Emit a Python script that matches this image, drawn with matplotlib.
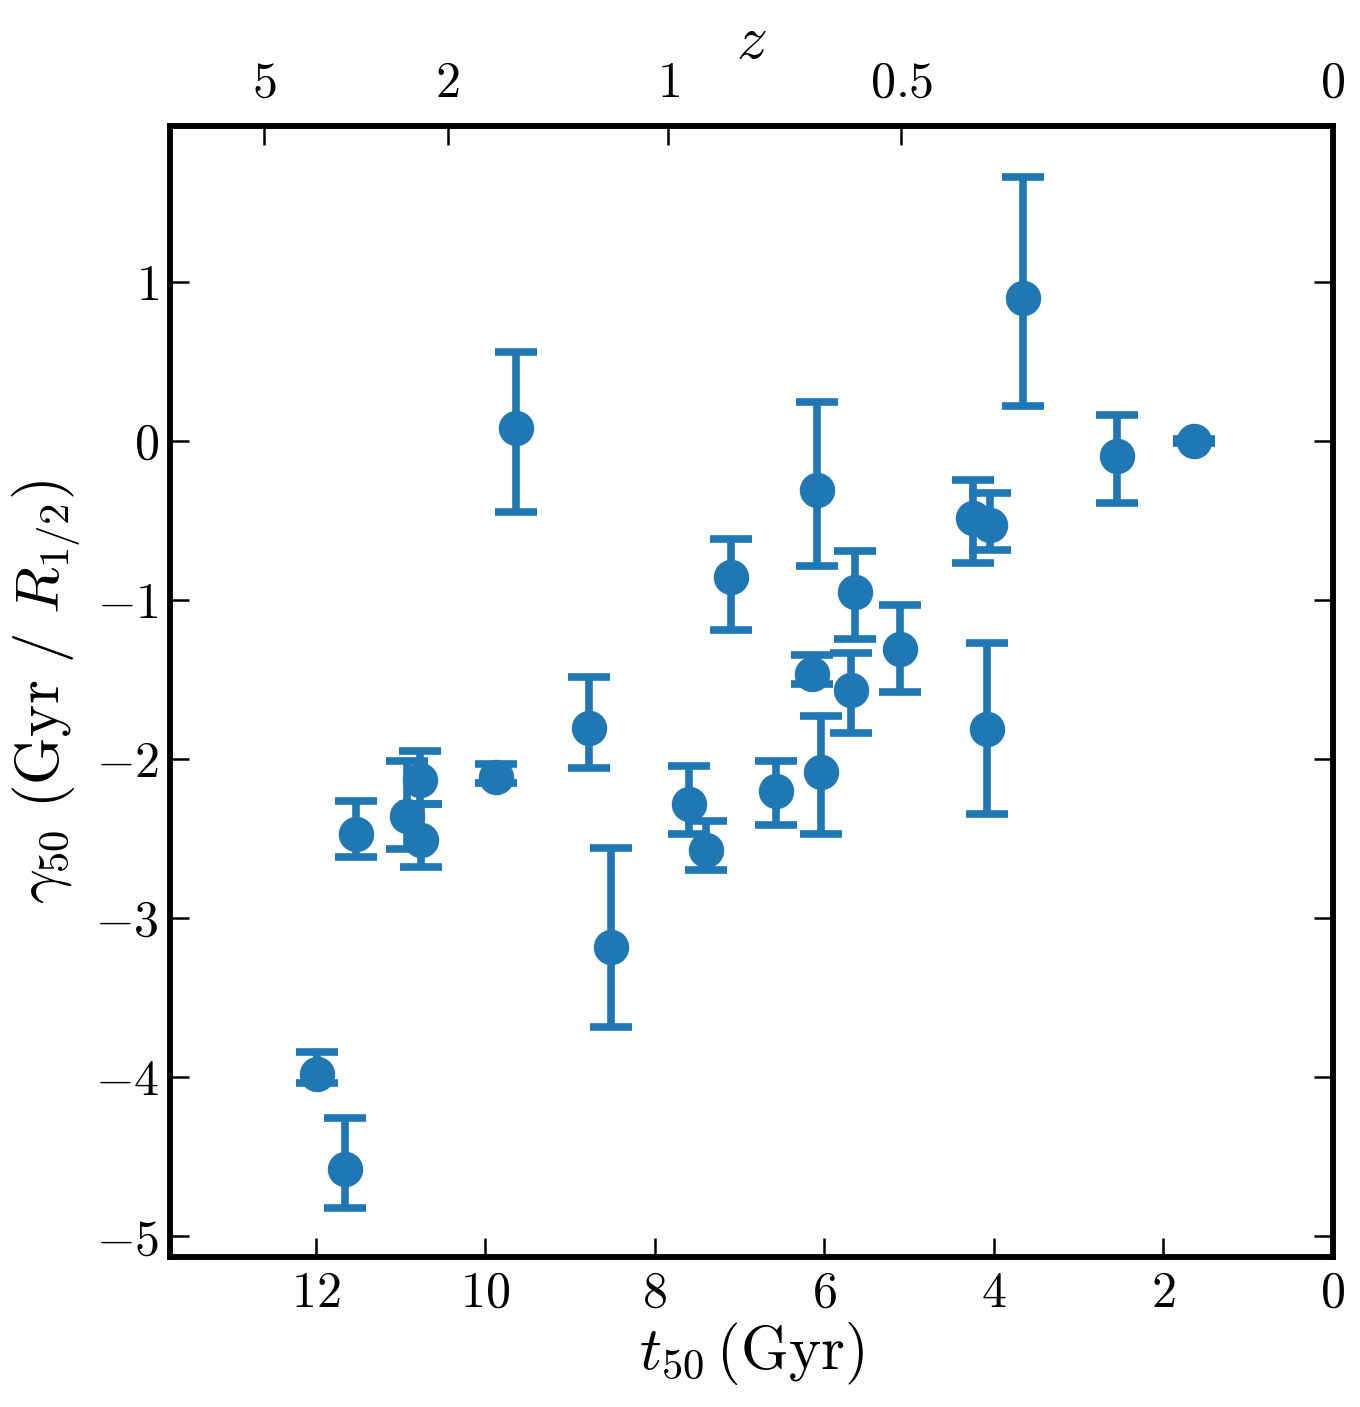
import numpy as np
import matplotlib
matplotlib.use("Agg")
import matplotlib.pyplot as plt

# t50 (lookback time, Gyr) and gamma50 with asymmetric errors
t50 = [11.985, 11.658, 11.528, 10.926, 10.767, 10.753, 9.876, 9.640, 8.775,
       8.511, 7.599, 7.390, 7.095, 6.564, 6.144, 6.085, 6.041, 5.687, 5.632,
       5.109, 4.242, 4.086, 4.039, 3.661, 2.545, 1.637]
gamma50 = [-3.979, -4.577, -2.473, -2.360, -2.133, -2.511, -2.113, 0.084, -1.804,
           -3.178, -2.280, -2.574, -0.854, -2.203, -1.462, -0.308, -2.079, -1.567,
           -0.948, -1.309, -0.487, -1.808, -0.529, 0.902, -0.094, 0.000]
err_lo = [0.059, 0.246, 0.145, 0.203, 0.151, 0.168, 0.037, 0.533, 0.252,
          0.508, 0.189, 0.120, 0.331, 0.209, 0.067, 0.477, 0.394, 0.269,
          0.298, 0.272, 0.279, 0.539, 0.157, 0.682, 0.294, 0.010]
err_hi = [0.136, 0.318, 0.207, 0.346, 0.184, 0.231, 0.085, 0.478, 0.321,
          0.621, 0.235, 0.184, 0.237, 0.191, 0.115, 0.555, 0.348, 0.235,
          0.256, 0.277, 0.242, 0.539, 0.204, 0.755, 0.258, 0.010]

# x axis and redshift axis
x_ticks = [12, 10, 8, 6, 4, 2, 0]
y_ticks = [1, 0, -1, -2, -3, -4, -5]
z_labels = ["5", "2", "1", "0.5", "0"]
z_lookback = [12.61, 10.445, 7.84, 5.09, 0.0]

plt.rcParams["mathtext.fontset"] = "cm"
plt.rcParams["font.family"] = "serif"
plt.rcParams["font.serif"] = ["cmr10", "DejaVu Serif"]

fig = plt.figure(figsize=(13.6, 14.07), dpi=100)
ax = fig.add_axes([0.125, 0.1066, 0.855, 0.8038])

ax.errorbar(t50, gamma50, yerr=[err_lo, err_hi], fmt="o", color="#1f77b4",
            ms=24.5, elinewidth=5.5, capsize=15, capthick=5.5)

ax.set_xlim(13.72, 0)
ax.set_ylim(-5.13, 1.98)

ax.set_xticks(x_ticks)
ax.set_xticklabels([f"${v}$" for v in x_ticks])
ax.set_yticks(y_ticks)
ax.set_yticklabels([f"${v}$" if v >= 0 else f"$-{abs(v)}$" for v in y_ticks])
ax.tick_params(direction="in", length=14, width=1.8, labelsize=36,
               right=True, top=False)
ax.tick_params(axis="x", pad=10)
ax.tick_params(axis="y", pad=8)

ax.set_xlabel(r"$t_{50}\,(\mathrm{Gyr})$", fontsize=44, labelpad=2)
ax.set_ylabel(r"$\gamma_{50}\ (\mathrm{Gyr}\ /\ R_{1/2})$", fontsize=44, labelpad=8)

for s in ax.spines.values():
    s.set_linewidth(4)

ax2 = ax.twiny()
ax2.set_xlim(ax.get_xlim())
ax2.set_xticks(z_lookback)
ax2.set_xticklabels([f"${v}$" for v in z_labels])
ax2.tick_params(direction="in", length=14, width=1.8, labelsize=36, pad=14,
                top=True, bottom=False)
ax2.set_xlabel(r"$z$", fontsize=44, labelpad=2)
for s in ax2.spines.values():
    s.set_linewidth(4)

fig.savefig("out.png", dpi=100)
